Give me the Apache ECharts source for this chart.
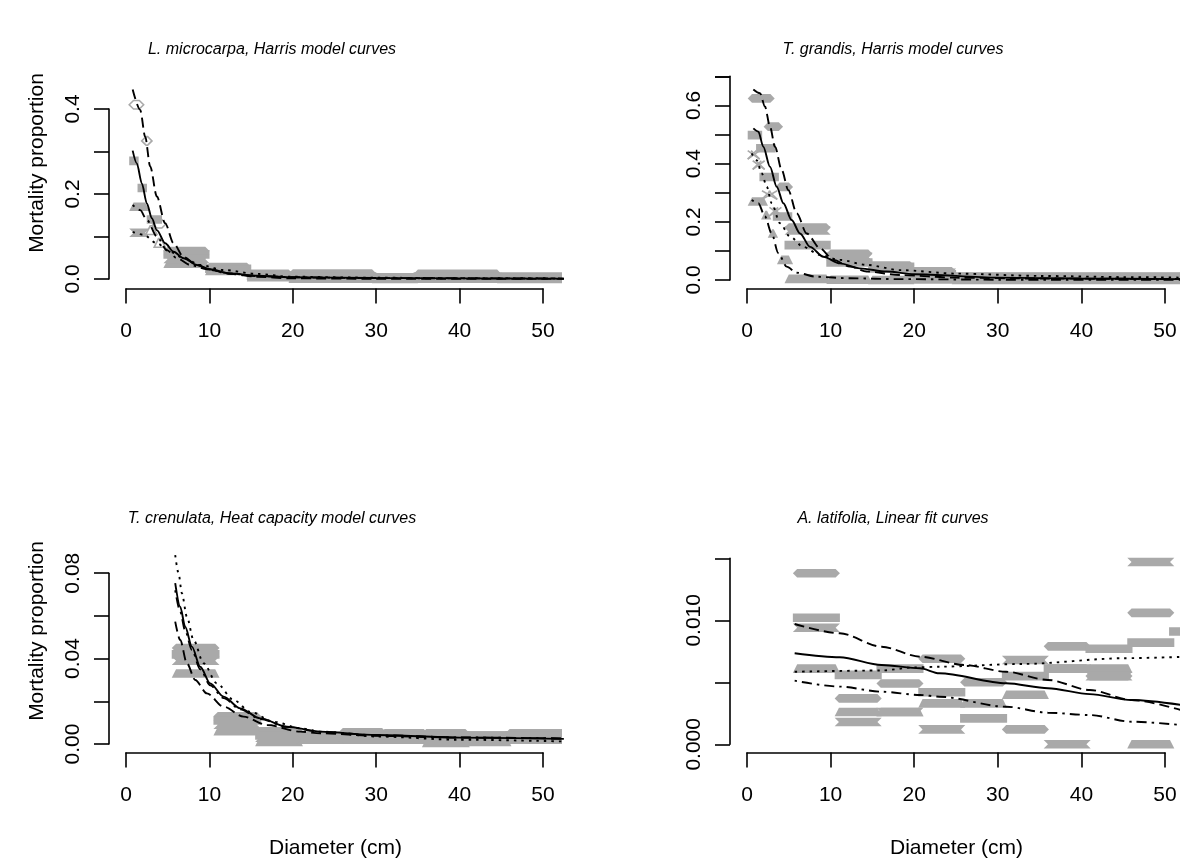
<!DOCTYPE html>
<html>
<head>
<meta charset="utf-8">
<title>Mortality proportion by diameter</title>
<script src="https://cdn.jsdelivr.net/npm/echarts@6/dist/echarts.min.js"></script>
<style>
  html, body { margin: 0; padding: 0; background: #ffffff; }
  #chart { width: 1180px; height: 868px; }
</style>
</head>
<body>
<div id="chart"></div>
<script>
// ---------------------------------------------------------------
// Observed mortality per diameter class: [fromDiameter, toDiameter, proportion]
// Four groups per species, each drawn with its own symbol shape.
// ---------------------------------------------------------------
const lmDiamond  = [[0.9,1.6,0.41],[2.4,2.6,0.325],[3.7,4.3,0.13],[5,9.5,0.066],[10,14.5,0.028],[15,19.5,0.012],[20,29.5,0.013],[30,34.5,0.004],[35,44.5,0.012],[45,52.5,0.006]];
const lmSquare   = [[0.9,1.0,0.278],[1.9,2.0,0.214],[3,3.8,0.14],[5,9.5,0.058],[10,14.5,0.024],[15,19.5,0.008],[20,29.5,0.006],[30,34.5,0.002],[35,44.5,0.006],[45,52.5,0.003]];
const lmTriangle = [[0.9,2.3,0.17],[2.9,3.2,0.115],[3.9,4.2,0.085],[5,9.5,0.036],[10,14.5,0.019],[15,19.5,0.004],[20,29.5,0.001],[30,34.5,0],[35,44.5,0.001],[45,52.5,0]];
const lmCross    = [[0.9,2.3,0.109],[5,9.5,0.047],[10,14.5,0.021],[15,19.5,0.006],[20,29.5,0.003],[30,34.5,0.001],[35,44.5,0.003],[45,52.5,0.002]];

const tgDiamond  = [[0.6,2.8,0.624],[2.5,3.8,0.527],[3.9,5,0.32],[5,9.5,0.18],[10,14.5,0.09],[15,19.5,0.05],[20,24.5,0.03],[25,52.5,0.012]];
const tgSquare   = [[0.6,1.3,0.498],[1.6,2.9,0.453],[2,3.3,0.354],[3.6,4.9,0.218],[5,9.5,0.12],[10,14.5,0.06],[15,19.5,0.045],[20,24.5,0.02],[25,52.5,0.006]];
const tgTriangle = [[0.6,2,0.27],[2.2,2.4,0.223],[3,3.2,0.16],[4.1,5,0.069],[5,9.5,0.004],[10,14.5,0.001],[15,19.5,0],[20,24.5,0.002],[25,52.5,0]];
const tgCross    = [[0.6,1,0.43],[1.2,1.6,0.395],[2.3,3.1,0.292],[3.2,3.6,0.235],[5,9.5,0.17],[10,14.5,0.08],[15,19.5,0.04],[20,24.5,0.025],[25,52.5,0.01]];

const tcDiamond  = [[6,10.7,0.045],[11,15.7,0.013],[16,20.7,0.006],[21,25.7,0.003],[26,30.7,0.0055],[31,35.7,0.005],[36,40.7,0.005],[41,45.7,0.004],[46,52.5,0.005]];
const tcSquare   = [[6,10.7,0.042],[11,15.7,0.011],[16,20.7,0.004],[21,25.7,0.004],[26,30.7,0.004],[31,35.7,0.004],[36,40.7,0.004],[41,45.7,0.004],[46,52.5,0.004]];
const tcTriangle = [[6,10.7,0.033],[11,15.7,0.006],[16,20.7,0.001],[21,25.7,0.002],[26,30.7,0.002],[31,35.7,0.002],[36,40.7,0.0005],[41,45.7,0.001],[46,52.5,0.002]];
const tcCross    = [[6,10.7,0.039],[11,15.7,0.009],[16,20.7,0.003],[21,25.7,0.002],[26,30.7,0.003],[31,35.7,0.003],[36,40.7,0.002],[41,45.7,0.003],[46,52.5,0.003]];

const alDiamond  = [[6,10.6,0.0138],[11,15.6,0.0037],[16,20.6,0.0049],[21,25.6,0.0069],[26,30.6,0.005],[31,35.6,0.0012],[36,40.6,0.0079],[41,45.6,0.0055],[46,50.6,0.0106]];
const alSquare   = [[6,10.6,0.0102],[11,15.6,0.0056],[16,20.6,0.0061],[21,25.6,0.0042],[26,30.6,0.0021],[31,35.6,0.0055],[36,40.6,0.0061],[41,45.6,0.0077],[46,50.6,0.0082],[51,52.5,0.0091]];
const alTriangle = [[6,10.6,0.0061],[11,15.6,0.0026],[16,20.6,0.0026],[21,25.6,0.0033],[26,30.6,0.0033],[31,35.6,0.004],[36,40.6,0.0061],[41,45.6,0.0061],[46,50.6,0]];
const alCross    = [[6,10.6,0.0094],[11,15.6,0.0018],[16,20.6,0.0026],[21,25.6,0.0012],[26,30.6,0.0021],[31,35.6,0.0068],[36,40.6,0],[41,45.6,0.0055],[46,50.6,0.0147]];

// ---------------------------------------------------------------
// Fitted model curves: [diameter, proportion]
// ---------------------------------------------------------------
const lmDashed  = [[0.8,0.446],[1.7,0.398],[2.3,0.335],[2.9,0.265],[3.7,0.194],[4.7,0.131],[5.7,0.084],[6.9,0.052],[8.5,0.033],[10.1,0.021],[12.5,0.012],[15.7,0.0054],[19.7,0.0016],[30,0.0005],[52.5,0.0002]];
const lmSolid   = [[0.8,0.302],[1.3,0.272],[1.9,0.225],[2.5,0.178],[3.1,0.143],[3.7,0.115],[4.7,0.084],[5.7,0.064],[6.9,0.049],[8.5,0.033],[10.1,0.023],[12.5,0.013],[15.7,0.0078],[19.7,0.004],[30,0.0025],[40,0.0015],[52.5,0.001]];
const lmDotdash = [[0.8,0.174],[1.7,0.162],[2.5,0.139],[3.7,0.1],[4.9,0.068],[6.1,0.049],[7.7,0.033],[9.7,0.023],[12.5,0.013],[15.7,0.007],[20,0.004],[30,0.002],[52.5,0.001]];
const lmDotted  = [[0.8,0.111],[2.1,0.104],[3.7,0.084],[5.3,0.064],[6.9,0.049],[8.9,0.033],[11.7,0.021],[15.7,0.012],[19.7,0.0054],[30,0.003],[40,0.002],[52.5,0.0015]];

const tgDashed  = [[0.76,0.655],[1.56,0.642],[2.15,0.596],[2.75,0.527],[3.35,0.458],[4.15,0.378],[4.94,0.309],[5.95,0.229],[7.14,0.16],[8.73,0.109],[10.33,0.069],[12.32,0.046],[14.32,0.029],[18.3,0.017],[25,0.008],[35,0.005],[52.5,0.003]];
const tgSolid   = [[0.76,0.521],[1.36,0.51],[1.95,0.458],[2.75,0.389],[3.55,0.321],[4.35,0.264],[5.34,0.206],[6.34,0.16],[7.54,0.114],[9.13,0.08],[11.12,0.057],[13.5,0.04],[16.7,0.029],[20,0.02],[30,0.008],[40,0.005],[52.5,0.003]];
const tgDotdash = [[0.56,0.275],[1.36,0.264],[2.15,0.218],[2.95,0.16],[3.75,0.092],[4.74,0.046],[5.94,0.025],[8.33,0.011],[12.32,0.006],[18.3,0.003],[30,0.001],[52.5,0.0005]];
const tgDotted  = [[0.56,0.435],[1.16,0.412],[1.76,0.367],[2.36,0.321],[2.95,0.264],[3.95,0.195],[5.14,0.149],[6.73,0.114],[8.73,0.086],[11.12,0.069],[14.3,0.052],[18.3,0.034],[25,0.022],[35,0.014],[45,0.01],[52.5,0.008]];

const tcDotted  = [[5.9,0.0885],[6.3,0.080],[6.7,0.0706],[7.3,0.0596],[8.1,0.0487],[9.3,0.0378],[10.9,0.0284],[12.9,0.0206],[14.9,0.0151],[17.7,0.0104],[20.9,0.0074],[23.3,0.0058],[30,0.0035],[40,0.002],[52.5,0.0012]];
const tcSolid   = [[5.9,0.0753],[6.5,0.0643],[7.1,0.0549],[7.9,0.0456],[8.9,0.0362],[10.1,0.0284],[11.7,0.0222],[13.7,0.0167],[16.1,0.012],[19.3,0.0081],[23.3,0.0058],[30,0.0042],[40,0.003],[52.5,0.0024]];
const tcDashed  = [[5.9,0.0573],[6.5,0.0487],[7.3,0.0378],[8.3,0.030],[9.7,0.0237],[11.7,0.0175],[14.1,0.0128],[16.9,0.0089],[20.9,0.0058],[23.3,0.005],[30,0.0038],[40,0.003],[52.5,0.0026]];
const tcDotdash = [[5.9,0.072],[6.5,0.062],[7.1,0.053],[7.9,0.044],[8.9,0.035],[10.1,0.0275],[11.7,0.0215],[13.7,0.0162],[16.1,0.0117],[19.3,0.008],[23.3,0.0057],[30,0.0041],[40,0.0031],[52.5,0.0025]];

const alDashed  = [[5.7,0.0097],[11.1,0.00895],[16.1,0.00787],[20.7,0.00706],[26,0.0064],[31,0.00585],[36,0.00519],[41,0.00438],[46,0.00357],[52.5,0.00265]];
const alSolid   = [[5.7,0.00734],[11.1,0.00702],[16.1,0.0064],[20.7,0.00613],[23,0.00573],[31,0.00492],[36,0.00452],[41,0.00405],[46,0.00357],[52.5,0.00312]];
const alDotted  = [[5.7,0.00585],[16,0.00595],[20,0.0062],[23,0.00626],[33,0.00648],[45,0.00694],[52.5,0.00706]];
const alDotdash = [[5.7,0.00513],[11.1,0.00465],[16.1,0.00424],[20.7,0.00398],[23,0.00384],[31,0.00303],[36,0.00255],[41,0.00236],[46,0.00182],[52.5,0.00152]];

// Tick labels
const xTickLabels  = ['0', '10', '20', '30', '40', '50'];
const lmYLabels = ['0.0', '', '0.2', '', '0.4'];
const tgYLabels = ['0.0', '', '0.2', '', '0.4', '', '0.6', ''];
const tcYLabels = ['0.00', '', '0.04', '', '0.08'];
const alYLabels = ['0.000', '', '0.010', ''];

// Panel text
const panelTitles = [
  'L. microcarpa, Harris model curves',
  'T. grandis, Harris model curves',
  'T. crenulata, Heat capacity model curves',
  'A. latifolia, Linear fit curves'
];
const yAxisTitle = 'Mortality proportion';
const xAxisTitle = 'Diameter (cm)';

// ---------------------------------------------------------------
// Assemble panels from the arrays above
// ---------------------------------------------------------------
const panels = [
  { bands: { diamond: lmDiamond, square: lmSquare, triangle: lmTriangle, cross: lmCross },
    curves: { dashed: lmDashed, solid: lmSolid, dotdash: lmDotdash, dotted: lmDotted },
    yLabels: lmYLabels, yStep: 0.1, openMarks: true },
  { bands: { diamond: tgDiamond, square: tgSquare, triangle: tgTriangle, cross: tgCross },
    curves: { dashed: tgDashed, solid: tgSolid, dotdash: tgDotdash, dotted: tgDotted },
    yLabels: tgYLabels, yStep: 0.1, openMarks: false },
  { bands: { diamond: tcDiamond, square: tcSquare, triangle: tcTriangle, cross: tcCross },
    curves: { dashed: tcDashed, solid: tcSolid, dotdash: tcDotdash, dotted: tcDotted },
    yLabels: tcYLabels, yStep: 0.02, openMarks: false },
  { bands: { diamond: alDiamond, square: alSquare, triangle: alTriangle, cross: alCross },
    curves: { dashed: alDashed, solid: alSolid, dotdash: alDotdash, dotted: alDotted },
    yLabels: alYLabels, yStep: 0.005, openMarks: false }
];

// Page geometry of each panel (pixels): plot region, position of the
// zero of each axis and pixels per unit.
const frames = [
  { left: 109, right: 562,  top: 70,  bottom: 288.5, x0: 126, xPx: 8.34, y0: 279,   yPx: 425 },
  { left: 730, right: 1183, top: 66,  bottom: 288.5, x0: 747, xPx: 8.36, y0: 280,   yPx: 291 },
  { left: 109, right: 562,  top: 540, bottom: 752.5, x0: 126, xPx: 8.34, y0: 744,   yPx: 2135 },
  { left: 730, right: 1183, top: 540, bottom: 752.5, x0: 747, xPx: 8.36, y0: 744.3, yPx: 12400 }
];

const GREY = '#a9a9a9';
const INK = '#000000';
const FONT = '"Liberation Sans", Arial, Helvetica, sans-serif';
const AXIS_FONT = 21;
const TICK_LEN = 15;
const AXIS_LW = 1.6;
const DASHES = { solid: 'solid', dashed: [10, 5], dotted: [2.5, 5], dotdash: [2.5, 5, 10, 5] };
const BAND_HALF = 4.3;

// One observed class drawn as a run of overlapping symbols
function bandRenderer(shape, openMarks) {
  return function (params, api) {
    const a = api.coord([api.value(0), api.value(2)]);
    const b = api.coord([api.value(1), api.value(2)]);
    const L = a[0], R = b[0], y = a[1], h = BAND_HALF;
    const narrow = (R - L) < 2 * h;
    if (narrow && shape === 'cross') {
      const s = { stroke: GREY, lineWidth: 1.6 };
      return { type: 'group', children: [
        { type: 'line', shape: { x1: L - h, y1: y - h, x2: R + h, y2: y + h }, style: s },
        { type: 'line', shape: { x1: L - h, y1: y + h, x2: R + h, y2: y - h }, style: s },
        { type: 'line', shape: { x1: L - h, y1: y + h, x2: L + h, y2: y - h }, style: s },
        { type: 'line', shape: { x1: R - h, y1: y - h, x2: R + h, y2: y + h }, style: s }
      ] };
    }
    let pts;
    if (shape === 'diamond') pts = [[L - h, y], [L, y - h], [R, y - h], [R + h, y], [R, y + h], [L, y + h]];
    else if (shape === 'square') pts = [[L - h, y - h], [R + h, y - h], [R + h, y + h], [L - h, y + h]];
    else if (shape === 'triangle') pts = [[L - h, y + h], [L, y - h], [R, y - h], [R + h, y + h]];
    else pts = [[L - h, y - h], [R + h, y - h], [R, y], [R + h, y + h], [L - h, y + h], [L, y]];
    const hollow = openMarks && narrow && shape !== 'square';
    return {
      type: 'polygon',
      shape: { points: pts },
      style: hollow ? { fill: 'none', stroke: GREY, lineWidth: 1.6 } : { fill: GREY }
    };
  };
}

const grids = [], xAxes = [], yAxes = [], series = [], graphics = [];
const axisLineStyle = { color: INK, width: AXIS_LW };

panels.forEach(function (p, i) {
  const f = frames[i];
  const gData = grids.length, gX = gData + 1, gY = gData + 2;
  const yTop = (p.yLabels.length - 1) * p.yStep;

  // Plot region holding the marks
  grids.push({ left: f.left, top: f.top, width: f.right - f.left, height: f.bottom - f.top,
               containLabel: false, outerBoundsMode: 'none' });
  xAxes.push({ type: 'value', gridIndex: gData, show: false,
               min: (f.left - f.x0) / f.xPx, max: (f.right - f.x0) / f.xPx });
  yAxes.push({ type: 'value', gridIndex: gData, show: false,
               min: (f.y0 - f.bottom) / f.yPx, max: (f.y0 - f.top) / f.yPx });

  // Bottom axis: spans the first to the last tick only
  grids.push({ left: f.x0, top: f.top, width: 50 * f.xPx, height: f.bottom - f.top,
               containLabel: false, outerBoundsMode: 'none' });
  xAxes.push({ type: 'value', gridIndex: gX, position: 'bottom', min: 0, max: 50, interval: 10,
               axisLine: { show: true, onZero: false, lineStyle: axisLineStyle },
               axisTick: { show: true, length: TICK_LEN, lineStyle: axisLineStyle },
               axisLabel: { show: true, margin: 32, color: INK, fontSize: AXIS_FONT, fontFamily: FONT,
                            formatter: function (v, idx) { return xTickLabels[idx]; } },
               splitLine: { show: false } });
  yAxes.push({ type: 'value', gridIndex: gX, show: false, min: 0, max: 1 });

  // Left axis: spans the first to the last tick only
  grids.push({ left: f.left, top: f.y0 - yTop * f.yPx, width: 40, height: yTop * f.yPx,
               containLabel: false, outerBoundsMode: 'none' });
  xAxes.push({ type: 'value', gridIndex: gY, show: false, min: 0, max: 1 });
  yAxes.push({ type: 'value', gridIndex: gY, position: 'left', min: 0, max: yTop, interval: p.yStep,
               axisLine: { show: true, onZero: false, lineStyle: axisLineStyle },
               axisTick: { show: true, length: TICK_LEN, lineStyle: axisLineStyle },
               axisLabel: { show: true, rotate: 90, margin: 25, color: INK, fontSize: AXIS_FONT, fontFamily: FONT,
                            formatter: function (v, idx) { return p.yLabels[idx] || ''; } },
               splitLine: { show: false } });

  // Observed classes
  ['diamond', 'square', 'triangle', 'cross'].forEach(function (shape) {
    series.push({
      type: 'custom', xAxisIndex: gData, yAxisIndex: gData, z: 1, silent: true, clip: true,
      renderItem: bandRenderer(shape, p.openMarks), encode: { x: [0, 1], y: 2 },
      data: p.bands[shape]
    });
  });

  // Model curves
  ['dashed', 'solid', 'dotdash', 'dotted'].forEach(function (style) {
    series.push({
      type: 'line', xAxisIndex: gData, yAxisIndex: gData, z: 3, silent: true, clip: true,
      data: p.curves[style], showSymbol: false, symbol: 'none',
      smooth: 0.3, smoothMonotone: 'x',
      lineStyle: { color: INK, width: 1.9, type: DASHES[style] }
    });
  });

  // Panel title
  graphics.push({ type: 'text', x: f.left + 163, y: f.top < 300 ? 50 : 519,
    style: { text: panelTitles[i], fontSize: 16, fontStyle: 'italic', fontFamily: FONT, fill: INK,
             textAlign: 'center', textVerticalAlign: 'middle' } });
});

// Axis titles on the outer panels
[0, 2].forEach(function (i) {
  const f = frames[i];
  graphics.push({ type: 'text', x: 37, y: f.top < 300 ? 163 : 631, rotation: Math.PI / 2,
    style: { text: yAxisTitle, fontSize: AXIS_FONT, fontFamily: FONT, fill: INK,
             textAlign: 'center', textVerticalAlign: 'middle' } });
});
[2, 3].forEach(function (i) {
  const f = frames[i];
  graphics.push({ type: 'text', x: (f.left + f.right) / 2, y: 848,
    style: { text: xAxisTitle, fontSize: AXIS_FONT, fontFamily: FONT, fill: INK,
             textAlign: 'center', textVerticalAlign: 'middle' } });
});

const chart = echarts.init(document.getElementById('chart'), null, { renderer: 'canvas' });
chart.setOption({
  backgroundColor: '#ffffff',
  animation: false,
  grid: grids,
  xAxis: xAxes,
  yAxis: yAxes,
  series: series,
  graphic: graphics
});
</script>
</body>
</html>
